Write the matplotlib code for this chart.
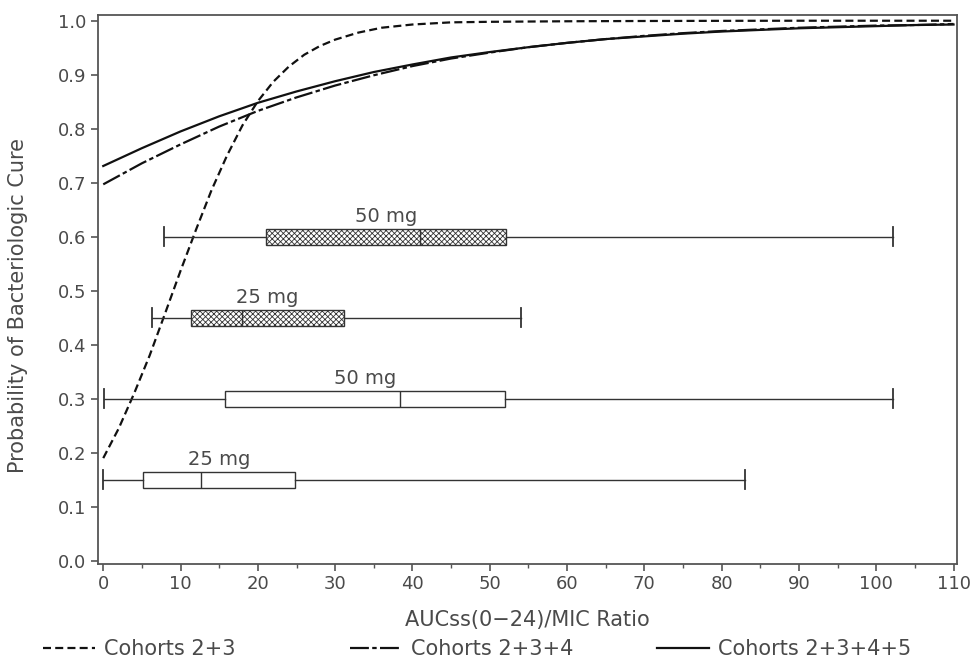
import matplotlib
matplotlib.use("Agg")
import matplotlib.pyplot as plt
from matplotlib.ticker import MultipleLocator

# probability curves
x_c23 = [0, 2, 4, 6, 8, 10, 12, 14, 16, 18, 20, 22, 24, 26, 28, 30, 33, 36, 40, 45, 50, 60, 70, 80, 90, 100, 110]
p_c23 = [0.19, 0.245, 0.31, 0.38, 0.458, 0.537, 0.613, 0.686, 0.75, 0.806, 0.851, 0.887, 0.915, 0.937, 0.953, 0.965, 0.978, 0.987, 0.993, 0.997, 0.998, 0.999, 0.9995, 0.9998, 1.0, 1.0, 1.0]

x_c = [0, 5, 10, 15, 20, 25, 30, 35, 40, 45, 50, 55, 60, 65, 70, 75, 80, 85, 90, 95, 100, 105, 110]
p_c234 = [0.697, 0.736, 0.771, 0.804, 0.833, 0.858, 0.880, 0.899, 0.916, 0.930, 0.941, 0.951, 0.959, 0.966, 0.972, 0.977, 0.981, 0.984, 0.987, 0.989, 0.991, 0.992, 0.994]
p_c2345 = [0.731, 0.764, 0.795, 0.823, 0.848, 0.869, 0.888, 0.905, 0.919, 0.932, 0.942, 0.951, 0.959, 0.966, 0.971, 0.976, 0.980, 0.983, 0.986, 0.988, 0.990, 0.992, 0.993]

# AUC/MIC box plots (min, q1, median, q3, max)
box_labels = ["50 mg", "25 mg", "50 mg", "25 mg"]
box_pos = [0.6, 0.45, 0.3, 0.15]
box_min = [7.8, 6.3, 0.1, 0.0]
box_q1 = [21.0, 11.4, 15.7, 5.2]
box_med = [41.0, 17.9, 38.4, 12.7]
box_q3 = [52.1, 31.1, 52.0, 24.8]
box_max = [102.2, 54.0, 102.2, 83.0]
box_hatched = [True, True, False, False]

txt = "#4a4a4a"
ink = "#111111"

plt.rcParams['hatch.linewidth'] = 0.6
plt.rcParams['hatch.color'] = '#444444'

fig = plt.figure(figsize=(9.72, 6.58), dpi=100)
ax = fig.add_axes([0.1005, 0.1429, 0.8837, 0.8343])

l1, = ax.plot(x_c23, p_c23, color=ink, lw=1.6, linestyle=(0, (3.6, 1.9)), label="Cohorts 2+3")
l2, = ax.plot(x_c, p_c234, color=ink, lw=1.6, linestyle=(0, (8.5, 1.5, 2.0, 1.5)), label="Cohorts 2+3+4")
l3, = ax.plot(x_c, p_c2345, color=ink, lw=1.6, linestyle="-", label="Cohorts 2+3+4+5")

stats = []
for i in range(len(box_pos)):
    stats.append(dict(whislo=box_min[i], q1=box_q1[i], med=box_med[i],
                      q3=box_q3[i], whishi=box_max[i], fliers=[]))

bp = ax.bxp(stats, positions=box_pos, widths=0.03, capwidths=0.035,
            orientation="horizontal", patch_artist=True, showfliers=False, manage_ticks=False,
            boxprops=dict(facecolor="white", edgecolor="#333333", lw=1.0),
            medianprops=dict(color="#333333", lw=1.0),
            whiskerprops=dict(color="#333333", lw=1.0),
            capprops=dict(color="#333333", lw=1.3))
for patch, h in zip(bp["boxes"], box_hatched):
    if h:
        patch.set_hatch("xxxxxx")

for i in range(len(box_pos)):
    ax.text((box_q1[i] + box_q3[i]) / 2, box_pos[i] + 0.019, box_labels[i],
            ha="center", va="bottom", fontsize=14, color=txt)

ax.set_xlim(-0.72, 110.4)
ax.set_ylim(-0.006, 1.0106)
ax.set_xticks(range(0, 111, 10))
ax.xaxis.set_minor_locator(MultipleLocator(5))
ax.set_yticks([i / 10 for i in range(11)])
ax.set_yticklabels([f"{i / 10:.1f}" for i in range(11)])

for s in ax.spines.values():
    s.set_color("#555555")
    s.set_linewidth(1.3)
ax.tick_params(axis="both", which="major", length=5, width=1.2, color="#555555",
               labelsize=13, labelcolor=txt, pad=3)
ax.tick_params(axis="x", which="minor", length=3, width=1.0, color="#555555")

ax.set_xlabel("AUCss(0\u221224)/MIC Ratio", fontsize=15, color=txt)
ax.xaxis.set_label_coords(0.5, -0.083)
ax.set_ylabel("Probability of Bacteriologic Cure", fontsize=15, color=txt)
ax.yaxis.set_label_coords(-0.081, 0.47)

# legend laid out in a row below the axes
for line, xpos in zip([l1, l2, l3], [43, 350, 657]):
    lg = fig.legend(handles=[line], loc="center left", bbox_to_anchor=(xpos / 972, 1 - 649 / 658),
                    frameon=False, fontsize=15, handlelength=2.5, handletextpad=0.45,
                    borderpad=0, borderaxespad=0)
    for t in lg.get_texts():
        t.set_color(txt)

fig.savefig("out.png", dpi=100)
